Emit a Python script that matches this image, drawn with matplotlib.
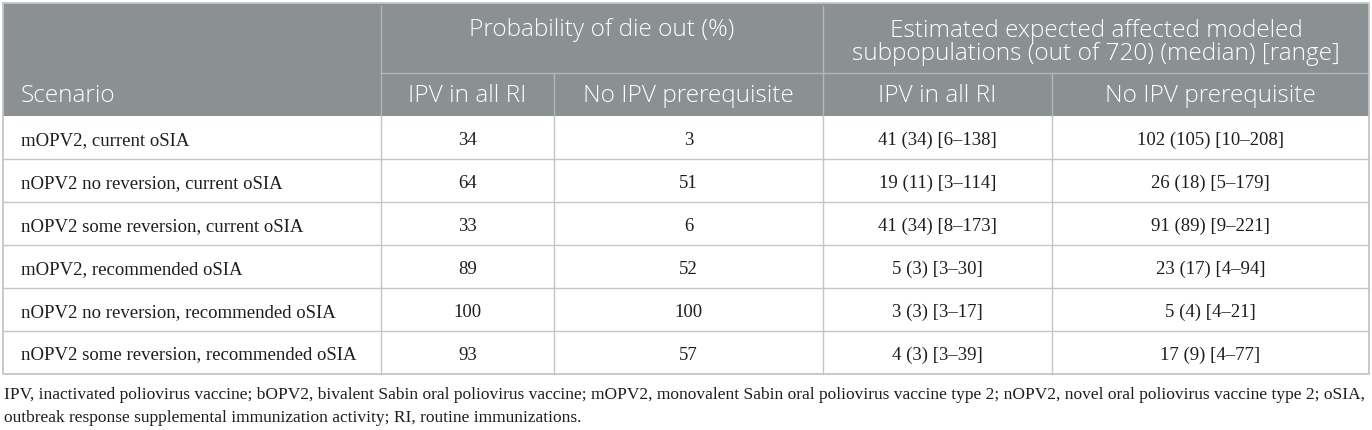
import matplotlib.pyplot as plt
from matplotlib.patches import Rectangle

# table content
scenarios = ['mOPV2, current oSIA',
             'nOPV2 no reversion, current oSIA',
             'nOPV2 some reversion, current oSIA',
             'mOPV2, recommended oSIA',
             'nOPV2 no reversion, recommended oSIA',
             'nOPV2 some reversion, recommended oSIA']
die_out_ipv = [34, 64, 33, 89, 100, 93]
die_out_no_ipv = [3, 51, 6, 52, 100, 57]
affected_ipv = ['41 (34) [6\u2013138]', '19 (11) [3\u2013114]', '41 (34) [8\u2013173]',
                '5 (3) [3\u201330]', '3 (3) [3\u201317]', '4 (3) [3\u201339]']
affected_no_ipv = ['102 (105) [10\u2013208]', '26 (18) [5\u2013179]', '91 (89) [9\u2013221]',
                   '23 (17) [4\u201394]', '5 (4) [4\u201321]', '17 (9) [4\u201377]']
group_prob = ['Probability of die out (%)']
group_affected = ['Estimated expected affected modeled',
                  'subpopulations (out of 720) (median) [range]']
sub_headers = ['IPV in all RI', 'No IPV prerequisite', 'IPV in all RI', 'No IPV prerequisite']
footnote = ['IPV, inactivated poliovirus vaccine; bOPV2, bivalent Sabin oral poliovirus vaccine; '
            'mOPV2, monovalent Sabin oral poliovirus vaccine type 2; nOPV2, novel oral poliovirus vaccine type 2; oSIA,',
            'outbreak response supplemental immunization activity; RI, routine immunizations.']

# layout in pixels
W, H = 1372, 430
col_x = [3, 381, 554, 823, 1052, 1369]
top, mid, head_bot = 3, 73, 116
bottom = 373.5

fig = plt.figure(figsize=(W / 100, H / 100), dpi=100)
ax = fig.add_axes([0, 0, 1, 1])
ax.set_xlim(0, W)
ax.set_ylim(H, 0)
ax.axis('off')

head_col = '#8b9092'
head_line = '#b2b6b8'
grid_col = '#c4c6c6'
txt_col = '#1e1e1e'
sans = 'Open Sans'
serif = 'Liberation Serif'
hs = 17.6   # header font size
ds = 13.5   # data font size

ax.add_patch(Rectangle((col_x[0], top), col_x[-1] - col_x[0], head_bot - top,
                       facecolor=head_col, edgecolor='none'))

# header lines
ax.plot([col_x[1], col_x[-1]], [mid, mid], color=head_line, lw=1)
ax.plot([col_x[1], col_x[1]], [top + 3, head_bot], color=head_line, lw=1)
ax.plot([col_x[3], col_x[3]], [top + 3, head_bot], color=head_line, lw=1)
for x in (col_x[2], col_x[4]):
    ax.plot([x, x], [mid, head_bot], color=head_line, lw=1)

# header text
hkw = dict(color='white', fontsize=hs, family=sans, fontweight='light', va='baseline')
ax.text(21, 102, 'Scenario', ha='left', **hkw)
ax.text((col_x[1] + col_x[3]) / 2, 36.5, group_prob[0], ha='center', **hkw)
for k, line in enumerate(group_affected):
    ax.text((col_x[3] + col_x[5]) / 2, 37 + 23 * k, line, ha='center', **hkw)
for i, s in enumerate(sub_headers):
    ax.text((col_x[i + 1] + col_x[i + 2]) / 2, 102, s, ha='center', **hkw)

# data rows
n = len(scenarios)
row_h = (bottom - head_bot) / n
dkw = dict(fontsize=ds, family=serif, va='baseline', color=txt_col)
for r in range(n):
    y0 = head_bot + r * row_h
    yb = y0 + row_h / 2 + 7.5
    if r > 0:
        ax.plot([col_x[0], col_x[-1]], [y0, y0], color=grid_col, lw=1)
    ax.text(21, yb, scenarios[r], ha='left', **dkw)
    vals = [die_out_ipv[r], die_out_no_ipv[r], affected_ipv[r], affected_no_ipv[r]]
    for i, v in enumerate(vals):
        ax.text((col_x[i + 1] + col_x[i + 2]) / 2, yb, str(v), ha='center', **dkw)

for x in col_x[1:-1]:
    ax.plot([x, x], [head_bot, bottom], color=grid_col, lw=1)
# outer border
ax.plot([col_x[0], col_x[0], col_x[-1], col_x[-1], col_x[0]],
        [top, bottom, bottom, top, top], color=grid_col, lw=1.3)

for k, line in enumerate(footnote):
    ax.text(4, 399 + 23 * k, line, fontsize=12.5, family=serif, ha='left',
            va='baseline', color=txt_col)

fig.savefig('out.png', dpi=100)
